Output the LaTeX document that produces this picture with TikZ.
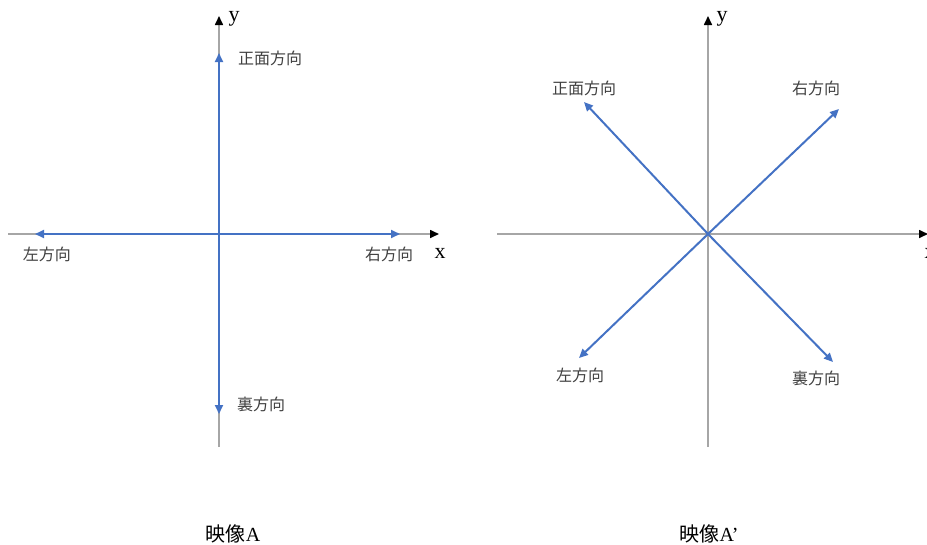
\documentclass[tikz,border=0pt]{standalone}
\usepackage{fontspec}
\setmainfont{Liberation Serif}
\newfontfamily\cjk{Noto Sans CJK JP}
\usetikzlibrary{arrows.meta}
\definecolor{axgray}{HTML}{A6A6A6}
\definecolor{dirblue}{HTML}{4472C4}
\tikzset{
  axisline/.style={draw=axgray, line width=1.6pt, -{Triangle[length=9pt,width=8pt,color=black]}},
  dirarrow/.style={draw=dirblue, line width=2pt, -{Triangle[length=9pt,width=8pt]}},
  dirlabel/.style={font=\cjk\fontsize{16}{18}\selectfont, text=black!75, inner sep=0pt},
  axislabel/.style={font=\fontsize{22}{24}\selectfont, inner sep=0pt},
  caption/.style={font=\fontsize{20}{22}\selectfont, inner sep=0pt}
}
\begin{document}
\begin{tikzpicture}[x=1pt,y=-1pt]
\useasboundingbox (0,0) rectangle (927,544);
% left panel
\coordinate (oA) at (219,234);
\coordinate (axbA) at (219,447);
\coordinate (axtA) at (219,16);
\coordinate (axlA) at (8,234);
\coordinate (axrA) at (439,234);
\draw[axisline, -] (axbA) -- (oA);
\draw[axisline] (oA) -- (axtA);
\draw[axisline, -] (axlA) -- (oA);
\draw[axisline] (oA) -- (axrA);
\coordinate (fA) at (219,53);
\coordinate (bA) at (219,414);
\coordinate (lA) at (35,234);
\coordinate (rA) at (400,234);
\draw[dirarrow] (oA) -- (fA);
\draw[dirarrow] (oA) -- (bA);
\draw[dirarrow] (oA) -- (lA);
\draw[dirarrow] (oA) -- (rA);
\node[axislabel] (yA) at (234,19) {y};
\node[axislabel] (xA) at (440,253) {x};
\node[dirlabel] (tfA) at (270,58) {正面方向};
\node[dirlabel] (trA) at (389,254) {右方向};
\node[dirlabel] (tlA) at (47,254) {左方向};
\node[dirlabel] (tbA) at (261,404) {裏方向};
\node[caption] (capA) at (233,534) {{\cjk 映像}A};
% right panel
\coordinate (oB) at (708,234);
\coordinate (axbB) at (708,447);
\coordinate (axtB) at (708,16);
\coordinate (axlB) at (497,234);
\coordinate (axrB) at (928,234);
\draw[axisline, -] (axbB) -- (oB);
\draw[axisline] (oB) -- (axtB);
\draw[axisline, -] (axlB) -- (oB);
\draw[axisline] (oB) -- (axrB);
\coordinate (fB) at (584,102);
\coordinate (rB) at (839,109);
\coordinate (lB) at (579,358);
\coordinate (bB) at (833,362);
\draw[dirarrow] (oB) -- (fB);
\draw[dirarrow] (oB) -- (rB);
\draw[dirarrow] (oB) -- (lB);
\draw[dirarrow] (oB) -- (bB);
\node[axislabel] (yB) at (722,19) {y};
\node[axislabel] (xB) at (930,253) {x};
\node[dirlabel] (tfB) at (584,88) {正面方向};
\node[dirlabel] (trB) at (816,88) {右方向};
\node[dirlabel] (tlB) at (580,375) {左方向};
\node[dirlabel] (tbB) at (816,378) {裏方向};
\node[caption] (capB) at (709,534) {{\cjk 映像}A’};
\end{tikzpicture}
\end{document}
